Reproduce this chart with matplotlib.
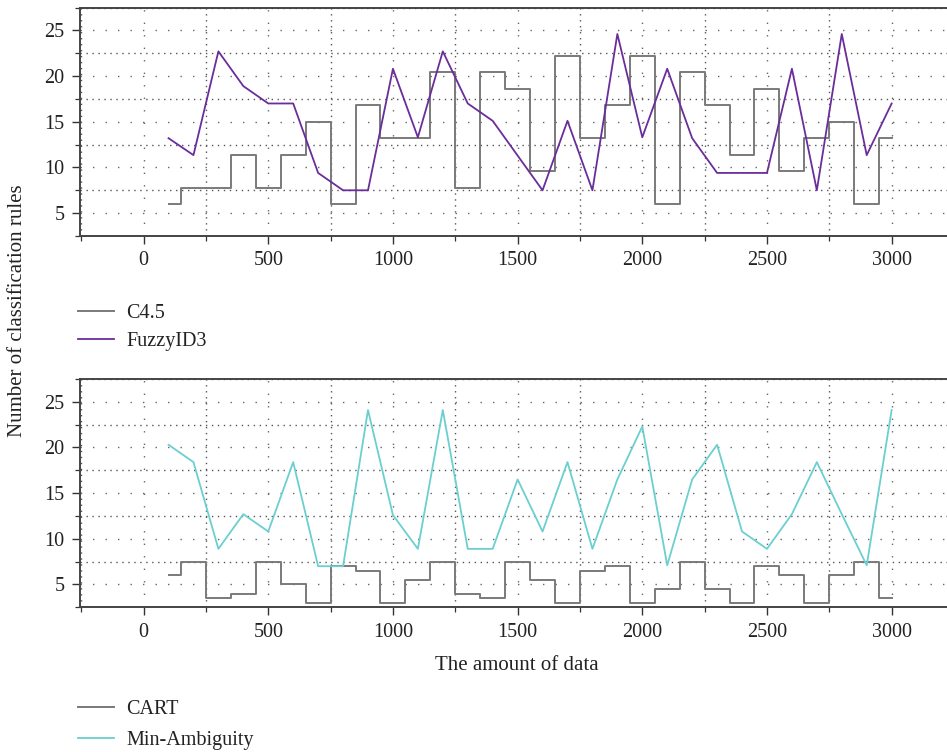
import matplotlib
matplotlib.use("Agg")
import matplotlib.pyplot as plt
import numpy as np
from matplotlib.ticker import MultipleLocator

plt.rcParams['font.family'] = ['Liberation Serif', 'DejaVu Serif']

x = list(range(100, 3001, 100))

c45 = [6.05, 7.8, 7.8, 11.4, 7.8, 11.4, 15.0, 6.05, 16.8, 13.2,
       13.2, 20.4, 7.8, 20.4, 18.6, 9.6, 22.2, 13.2, 16.8, 22.2,
       6.05, 20.4, 16.8, 11.4, 18.6, 9.6, 13.2, 15.0, 6.05, 13.2]
fuzzy = [13.2, 11.35, 22.7, 18.9, 17.0, 17.0, 9.4, 7.5, 7.5, 20.8,
         13.3, 22.7, 17.0, 15.1, 11.3, 7.5, 15.1, 7.5, 24.6, 13.3,
         20.8, 13.2, 9.4, 9.4, 9.4, 20.8, 7.5, 24.6, 11.35, 17.0]
cart = [6.0, 7.5, 3.5, 4.0, 7.5, 5.0, 3.0, 7.0, 6.5, 3.0,
        5.5, 7.5, 4.0, 3.5, 7.5, 5.5, 3.0, 6.5, 7.0, 3.0,
        4.5, 7.5, 4.5, 3.0, 7.0, 6.0, 3.0, 6.0, 7.5, 3.5]
minamb = [20.3, 18.4, 8.9, 12.7, 10.8, 18.4, 7.0, 7.0, 24.1, 12.6,
          8.9, 24.1, 8.9, 8.9, 16.5, 10.8, 18.4, 8.9, 16.5, 22.3,
          7.1, 16.5, 20.3, 10.8, 8.9, 12.7, 18.4, 12.7, 7.1, 24.1]

xticks = [0, 500, 1000, 1500, 2000, 2500, 3000]
yticks = [5, 10, 15, 20, 25]

W, H = 947, 752
fig = plt.figure(figsize=(W / 100, H / 100), dpi=100)

gray = '#7a7a7a'
purple = '#6a2d9a'
cyan = '#6ccfcf'
txt = '#222222'

def make_ax(bottom_px, top_px):
    left = 80 / W
    ax = fig.add_axes([left, 1 - bottom_px / H, 1 - left, (bottom_px - top_px) / H])
    ax.set_xlim(-255, 3222)
    ax.set_ylim(2.5, 27.5)
    ax.set_xticks(xticks)
    ax.set_yticks(yticks)
    ax.xaxis.set_minor_locator(MultipleLocator(250))
    ax.yaxis.set_minor_locator(MultipleLocator(2.5))
    ax.grid(True, which='major', color='#666666', linestyle=(0, (1, 8)), linewidth=1.0)
    ax.grid(True, which='minor', color='#555555', linestyle=(0, (1, 3.3)), linewidth=1.0)
    ax.tick_params(which='major', direction='out', length=6, width=1.0, color='#333333',
                   labelsize=14.5, labelcolor=txt, pad=5)
    ax.tick_params(which='minor', direction='out', length=3.5, width=0.9, color='#333333')
    for s in ['top', 'left', 'bottom']:
        ax.spines[s].set_color('#444444')
        ax.spines[s].set_linewidth(1.4)
    ax.spines['right'].set_visible(False)
    ax.set_axisbelow(True)
    return ax

ax1 = make_ax(236, 7.5)
l1, = ax1.step(x, c45, where='mid', color=gray, linewidth=1.4, label='C4.5')
l2, = ax1.plot(x, fuzzy, color=purple, linewidth=1.3, label='FuzzyID3')

ax2 = make_ax(607.3, 379)
l3, = ax2.step(x, cart, where='mid', color=gray, linewidth=1.4, label='CART')
l4, = ax2.plot(x, minamb, color=cyan, linewidth=1.3, label='Min-Ambiguity')

leg_kw = dict(loc='upper left', frameon=False, fontsize=14.5, handlelength=1.8,
              handletextpad=0.6, borderpad=0, borderaxespad=0,
              labelcolor=txt)
fig.legend(handles=[l1, l2], bbox_to_anchor=(78 / W, 1 - 304 / H), labelspacing=0.45, **leg_kw)
fig.legend(handles=[l3, l4], bbox_to_anchor=(78 / W, 1 - 700 / H), labelspacing=0.6, **leg_kw)

fig.text(517 / W, 1 - 665 / H, 'The amount of data', ha='center', va='center',
         fontsize=15, color=txt)
fig.text(18 / W, 1 - 311 / H, 'Number of classification rules', ha='center', va='center',
         rotation=90, fontsize=15, color=txt)

fig.savefig('out.png', dpi=100)
